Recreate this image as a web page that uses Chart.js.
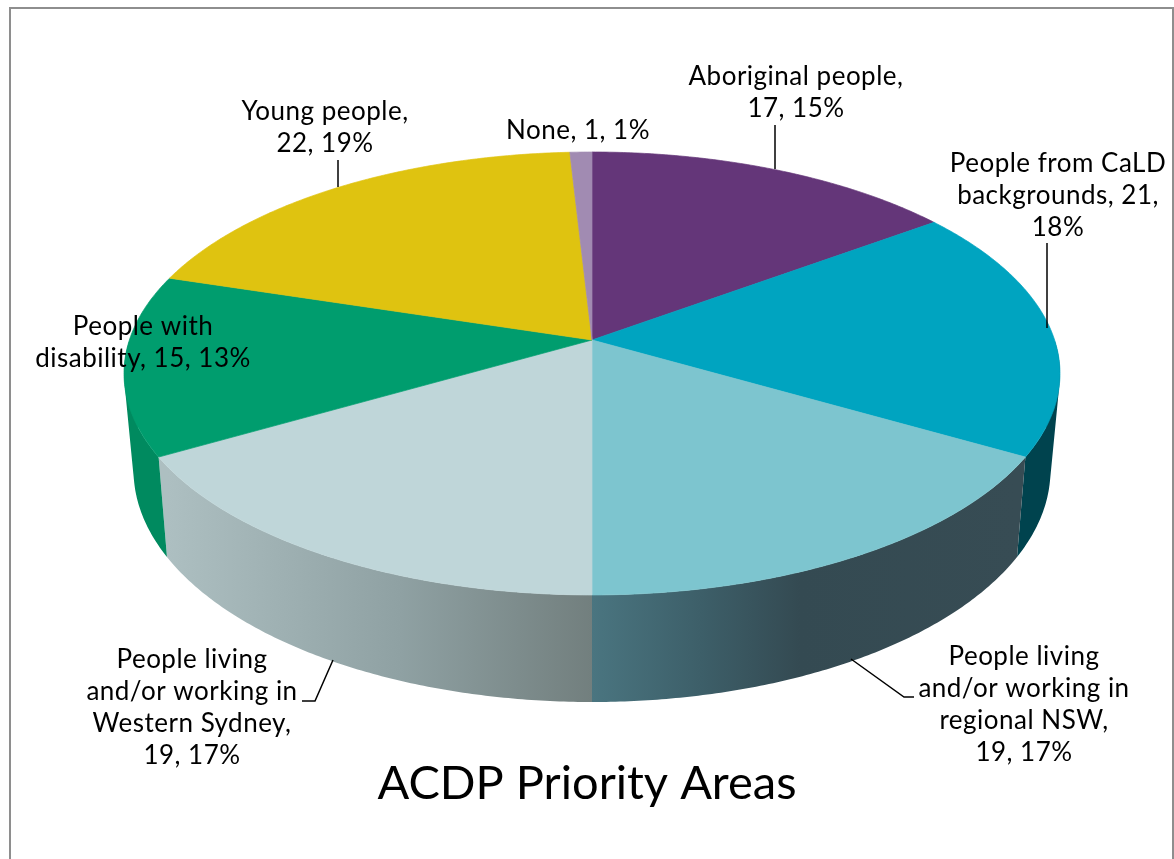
<!DOCTYPE html>
<html>
<head>
<meta charset="utf-8">
<title>ACDP Priority Areas</title>
<script src="https://cdn.jsdelivr.net/npm/chart.js@4"></script>
<style>
  html, body { margin: 0; background: #fff; }
  canvas { display: block; }
</style>
</head>
<body>
<canvas id="pieChart" width="1174" height="859"></canvas>
<script>
const categories = [
    'Aboriginal people',
    'People from CaLD backgrounds',
    'People living and/or working in regional NSW',
    'People living and/or working in Western Sydney',
    'People with disability',
    'Young people',
    'None'
];
const values = [17, 21, 19, 19, 15, 22, 1];
const topColours = ['#643679', '#00a4c0', '#7dc5cf', '#bfd6d9', '#009d6e', '#dfc310', '#a18bb2'];

// side wall: [x, colour] stops along the width, only the front slices show
const sideColours = [
    [[0, '#4a2859']],
    [[0, '#00434e']],
    [[592, '#4a7580'], [700, '#3d5f69'], [800, '#344a52'], [1017, '#374c54']],
    [[168, '#adbfc1'], [400, '#8fa1a3'], [592, '#727f7e']],
    [[0, '#008a5f']],
    [[0, '#a89209']],
    [[0, '#7b6a88']]
];

// words per label line, and where each label sits (centre x, first line y)
const labelLines = [[2, 2], [3, 2, 1], [2, 3, 2, 2], [2, 3, 2, 2], [2, 3], [2, 2], [3]];
const labelSpots = [[796, 77], [1058, 164], [1024, 657], [192, 660], [143, 327], [325, 112], [578, 131]];
const leaderLines = [
    [[775, 125], [775, 169]],
    [[1047, 243], [1047, 328]],
    [[851, 659], [904, 697], [914, 697]],
    [[333, 660], [315, 701], [302, 701]],
    [[338, 160], [338, 187]]
];

// perspective of the disc, solved from the rim: top face and bottom face
const topFace = { cx: 592, k: 462.6, a: 165, b: 340, c: -0.1512 };
const bottomFace = { cx: 592, k: 453, a: 159.6, b: 434.3, c: -0.154 };

function project(face, angle) {
    const u = Math.cos(angle), v = Math.sin(angle);
    const w = 1 + face.c * v;
    return [face.cx + face.k * u / w, (face.a * v + face.b) / w];
}

function sideFill(ctx, stops) {
    if (stops.length === 1) return stops[0][1];
    const first = stops[0][0], last = stops[stops.length - 1][0];
    const grad = ctx.createLinearGradient(first, 0, last, 0);
    stops.forEach(s => grad.addColorStop((s[0] - first) / (last - first), s[1]));
    return grad;
}

// adds a quad to the current path, always wound the same way so the
// nonzero fill gives one solid shape with no seams
function addQuad(ctx, pts) {
    let area = 0;
    pts.forEach((p, i) => {
        const n = pts[(i + 1) % 4];
        area += p[0] * n[1] - n[0] * p[1];
    });
    const quad = area < 0 ? pts.slice().reverse() : pts;
    ctx.moveTo(quad[0][0], quad[0][1]);
    ctx.lineTo(quad[1][0], quad[1][1]);
    ctx.lineTo(quad[2][0], quad[2][1]);
    ctx.lineTo(quad[3][0], quad[3][1]);
    ctx.closePath();
}

const pie3d = {
    id: 'pie3d',
    beforeDatasetDraw(chart) {
        const ctx = chart.ctx;
        const arcs = chart.getDatasetMeta(0).data;
        const step = Math.PI / 360;

        // side wall first, only the half that faces the viewer
        arcs.forEach((arc, i) => {
            const from = Math.max(arc.startAngle, 0);
            const to = Math.min(arc.endAngle, Math.PI);
            if (to <= from) return;
            ctx.beginPath();
            for (let t = from; t < to; t += step) {
                const t2 = Math.min(t + step, to);
                addQuad(ctx, [project(topFace, t), project(topFace, t2), project(bottomFace, t2), project(bottomFace, t)]);
            }
            ctx.fillStyle = sideFill(ctx, sideColours[i]);
            ctx.fill();
        });

        // top face, angles come from the pie controller
        arcs.forEach(arc => {
            ctx.beginPath();
            ctx.moveTo(topFace.cx, topFace.b);
            for (let t = arc.startAngle; t < arc.endAngle; t += step) {
                const p = project(topFace, t);
                ctx.lineTo(p[0], p[1]);
            }
            const end = project(topFace, arc.endAngle);
            ctx.lineTo(end[0], end[1]);
            ctx.closePath();
            ctx.fillStyle = arc.options.backgroundColor;
            ctx.strokeStyle = arc.options.backgroundColor;
            ctx.lineWidth = 0.7; // hides the pale hairline between slices
            ctx.fill();
            ctx.stroke();
        });
        return false;
    },
    afterDraw(chart) {
        const ctx = chart.ctx;
        const total = values.reduce((a, b) => a + b, 0);

        // frame, bottom edge runs off the page
        ctx.strokeStyle = '#8e8e8e';
        ctx.lineWidth = 2;
        ctx.beginPath();
        ctx.moveTo(10, 870);
        ctx.lineTo(10, 8);
        ctx.lineTo(1173, 8);
        ctx.lineTo(1173, 870);
        ctx.stroke();

        ctx.strokeStyle = '#000';
        ctx.lineWidth = 1.5;
        leaderLines.forEach(line => {
            ctx.beginPath();
            line.forEach((p, i) => i ? ctx.lineTo(p[0], p[1]) : ctx.moveTo(p[0], p[1]));
            ctx.stroke();
        });

        ctx.fillStyle = '#000';
        ctx.font = '26px Lato';
        ctx.letterSpacing = '0.5px';
        ctx.textAlign = 'center';
        ctx.textBaseline = 'middle';
        categories.forEach((cat, i) => {
            const words = `${cat}, ${values[i]}, ${Math.round(values[i] / total * 100)}%`.split(' ');
            let y = labelSpots[i][1];
            labelLines[i].forEach(n => {
                ctx.fillText(words.splice(0, n).join(' '), labelSpots[i][0], y);
                y += 32;
            });
        });
    }
};

new Chart(document.getElementById('pieChart'), {
    type: 'pie',
    data: {
        labels: categories,
        datasets: [{ data: values, backgroundColor: topColours, borderWidth: 0 }]
    },
    options: {
        responsive: false,
        animation: false,
        plugins: {
            legend: { display: false },
            tooltip: { enabled: false },
            title: {
                display: true,
                text: 'ACDP Priority Areas',
                position: 'bottom',
                color: '#000',
                font: { family: 'Lato', size: 47, weight: 'normal' },
                padding: { top: 0, bottom: 47 }
            }
        }
    },
    plugins: [pie3d]
});
</script>
</body>
</html>
